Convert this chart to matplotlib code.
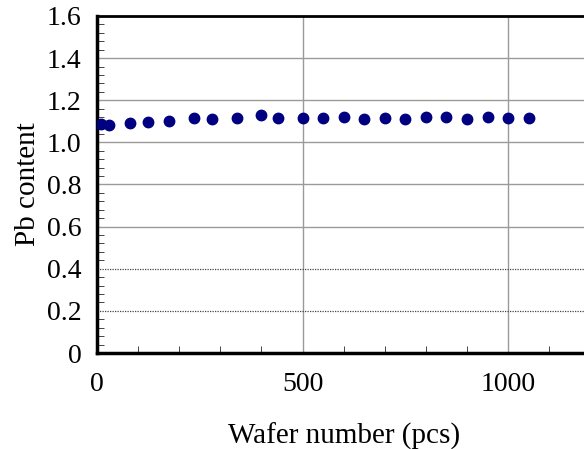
import matplotlib.pyplot as plt
from matplotlib.ticker import MultipleLocator

wafer_number = [10, 30, 80, 125, 175, 235, 280, 340, 400, 440, 500, 550,
                600, 650, 700, 750, 800, 850, 900, 950, 1000, 1050]
pb_content = [1.087, 1.081, 1.092, 1.097, 1.103, 1.114, 1.109, 1.114, 1.128, 1.116, 1.116, 1.116,
              1.122, 1.112, 1.114, 1.109, 1.119, 1.122, 1.112, 1.122, 1.114, 1.117]
y_ticks = [0, 0.2, 0.4, 0.6, 0.8, 1.0, 1.2, 1.4, 1.6]
y_tick_labels = ["0", "0.2", "0.4", "0.6", "0.8", "1.0", "1.2", "1.4", "1.6"]
x_ticks = [0, 500, 1000]
dotted_rows = [0.2, 0.4]

plt.rcParams['font.family'] = ['Liberation Serif', 'DejaVu Serif']

fig = plt.figure(figsize=(5.84, 4.49), dpi=100)
ax = fig.add_axes([0.166, 0.2138, 0.845, 0.7506])

ax.plot(wafer_number, pb_content, linestyle="none", marker="o", markersize=7.5,
        color="#000080", zorder=3)

ax.set_xlim(0, 1200)
ax.set_ylim(0, 1.6)
ax.set_xticks(x_ticks)
ax.set_yticks(y_ticks)
ax.set_yticklabels(y_tick_labels)
ax.xaxis.set_minor_locator(MultipleLocator(100))
ax.yaxis.set_minor_locator(MultipleLocator(0.04))

ax.tick_params(which="both", direction="in", labelsize=20, color="#444444")
ax.tick_params(which="major", length=0)
ax.tick_params(axis="x", which="major", pad=14)
ax.tick_params(axis="y", which="major", pad=11)
ax.tick_params(which="minor", length=5, width=0.7)

ax.grid(True, which="major", color="#9a9a9a", linewidth=1.0)
for val, line in zip(ax.get_yticks(), ax.yaxis.get_gridlines()):
    if round(val, 2) in dotted_rows:
        line.set_linestyle((0, (1, 1)))
        line.set_color("#444444")
        line.set_linewidth(0.9)
ax.set_axisbelow(True)

for side in ["left", "bottom"]:
    ax.spines[side].set_linewidth(2.5)
ax.spines["top"].set_linewidth(2.0)
ax.spines["right"].set_visible(False)

ax.set_xlabel("Wafer number (pcs)", fontsize=21, labelpad=18)
ax.set_ylabel("Pb content", fontsize=21, labelpad=4)

fig.savefig("out.png", dpi=100)
